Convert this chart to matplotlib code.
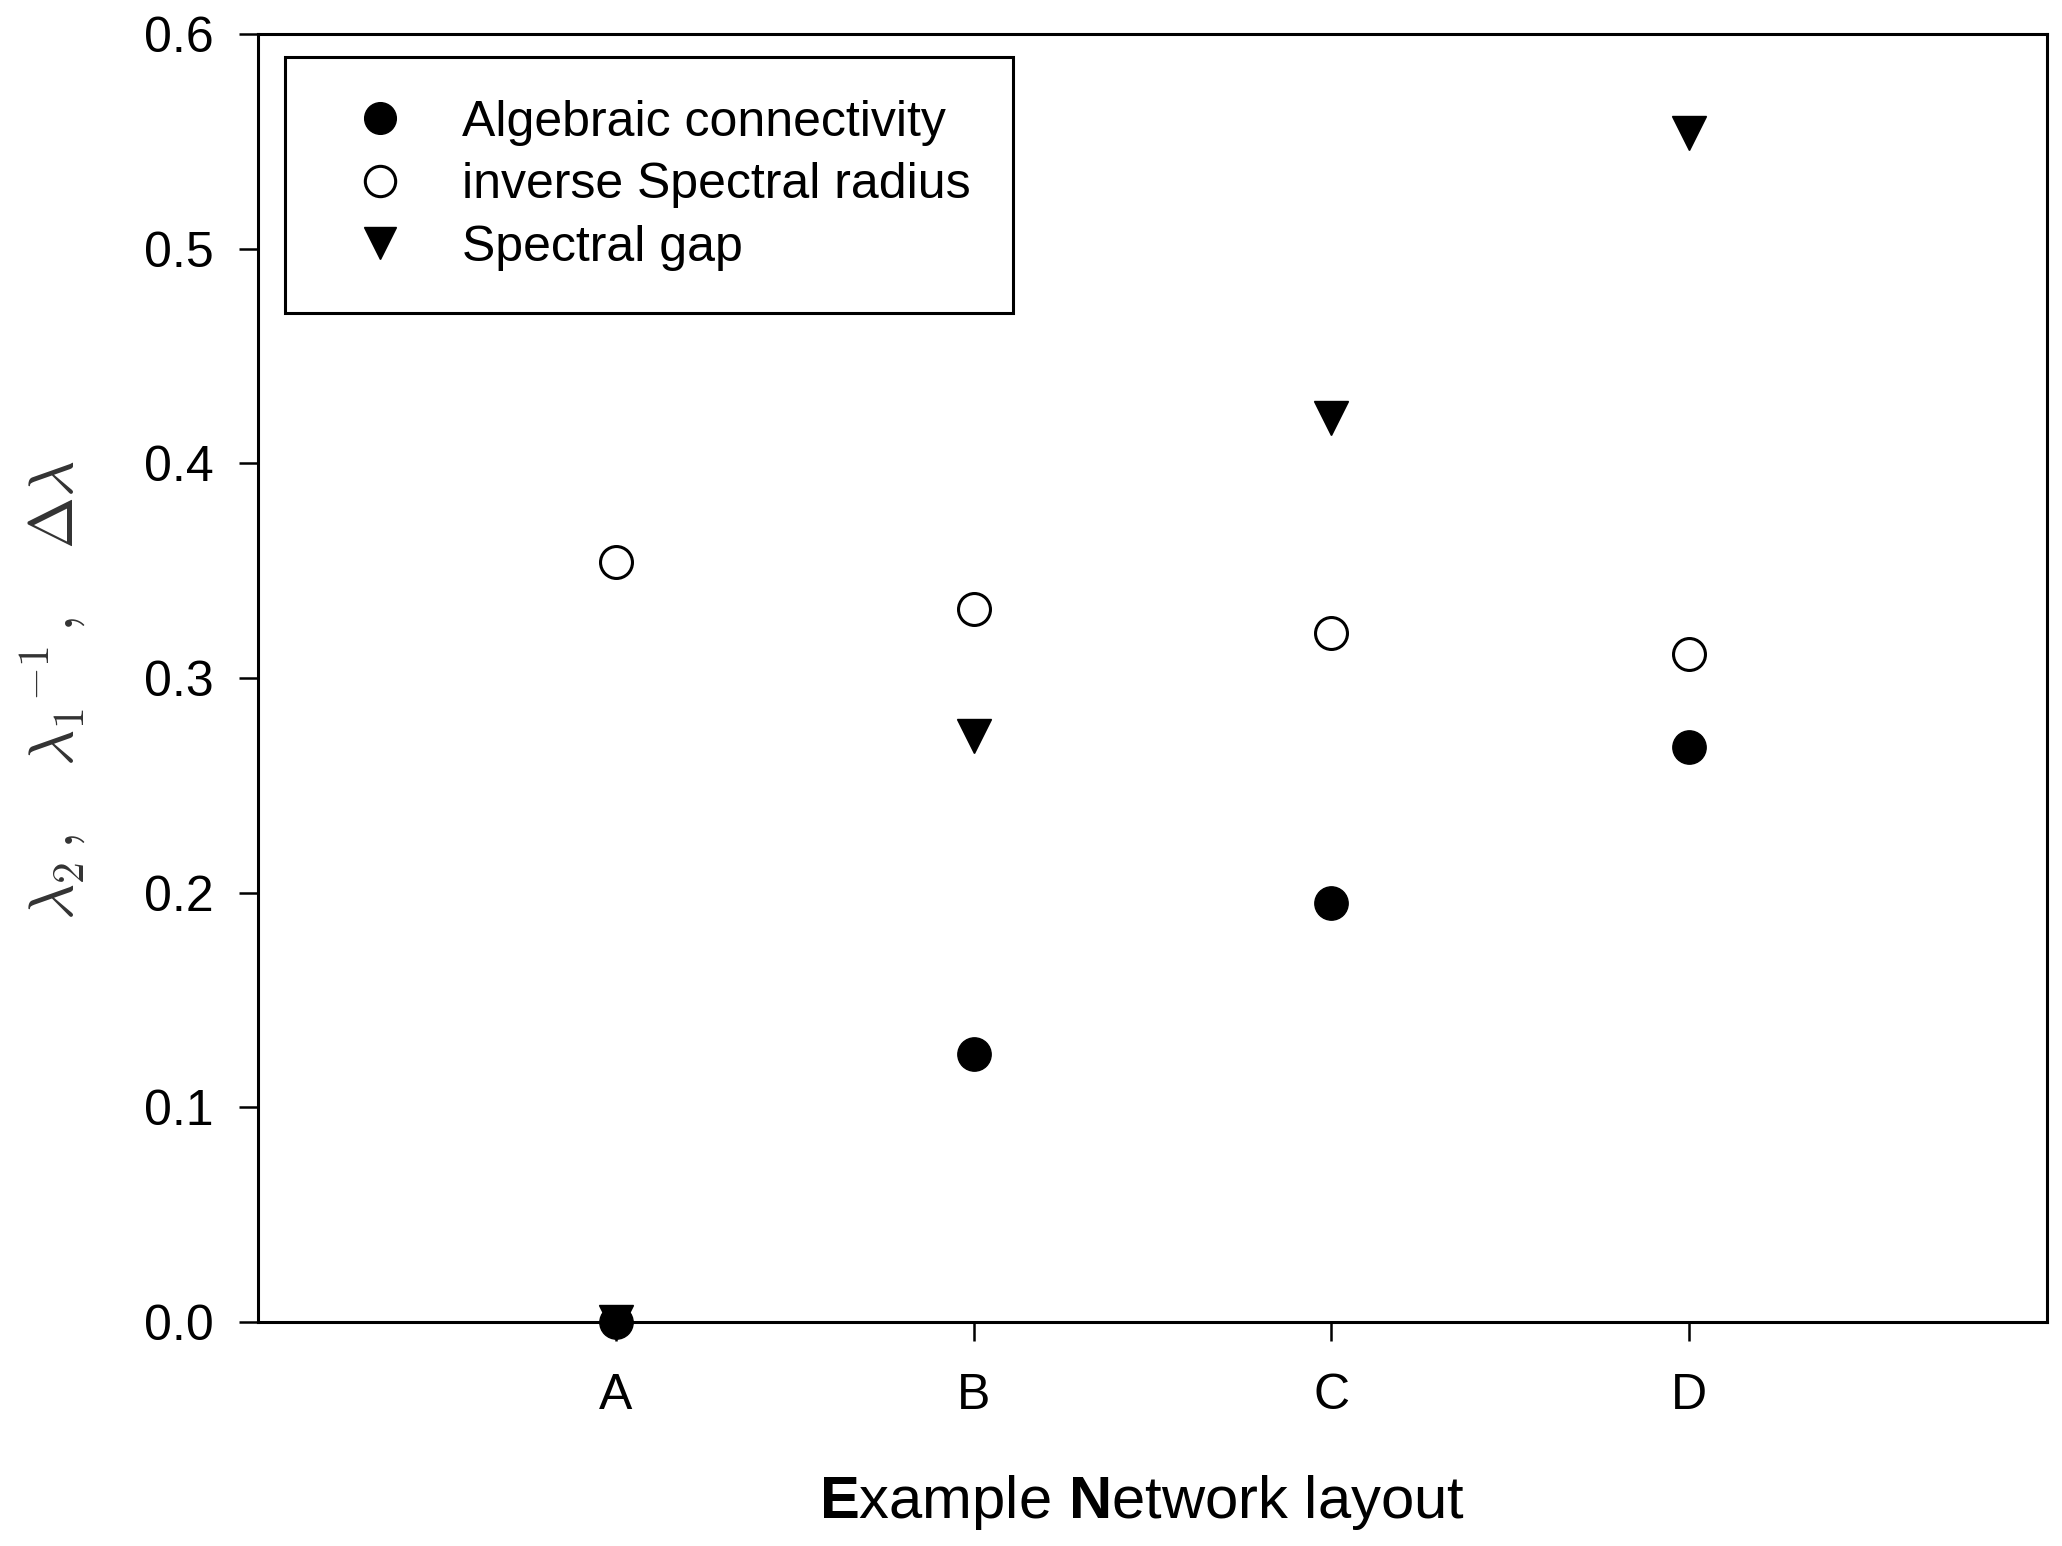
import matplotlib
matplotlib.use("Agg")
import matplotlib.pyplot as plt
from matplotlib.ticker import FormatStrFormatter

categories = ["A", "B", "C", "D"]
algebraic_connectivity = [0.0, 0.125, 0.195, 0.268]
inverse_spectral_radius = [0.354, 0.332, 0.321, 0.311]
spectral_gap = [0.0, 0.273, 0.421, 0.554]
y_ticks = [0.0, 0.1, 0.2, 0.3, 0.4, 0.5, 0.6]

plt.rcParams['font.family'] = ['Liberation Sans', 'DejaVu Sans']
plt.rcParams['mathtext.fontset'] = 'custom'
plt.rcParams['mathtext.rm'] = 'Liberation Sans'
plt.rcParams['mathtext.bf'] = 'Liberation Sans:bold'

fig = plt.figure(figsize=(20.62, 15.46), dpi=100)
ax = fig.add_axes([0.1251, 0.14489, 0.99273 - 0.1251, 0.97801 - 0.14489])

x = list(range(1, len(categories) + 1))

ax.plot(x, algebraic_connectivity, linestyle='none', marker='o', markersize=24,
        color='black', label='Algebraic connectivity', zorder=5, clip_on=False)
ax.plot(x, inverse_spectral_radius, linestyle='none', marker='o', markersize=23,
        markerfacecolor='white', markeredgecolor='black', markeredgewidth=2.2,
        label='inverse Spectral radius', zorder=4, clip_on=False)
ax.plot(x, spectral_gap, linestyle='none', marker='v', markersize=24,
        color='black', label='Spectral gap', zorder=3, clip_on=False)

ax.set_xlim(0, 5)
ax.set_ylim(0, 0.6)
ax.set_xticks(x)
ax.set_xticklabels(categories)
ax.set_yticks(y_ticks)
ax.yaxis.set_major_formatter(FormatStrFormatter('%.1f'))

for side in ['left', 'bottom', 'right', 'top']:
    ax.spines[side].set_linewidth(2.2)
ax.tick_params(axis='both', which='major', direction='out', length=14, width=1.8,
               labelsize=36, top=False, right=False)
ax.tick_params(axis='y', pad=18)
ax.tick_params(axis='x', pad=23)

ax.set_xlabel(r'$\mathbf{E}$xample $\mathbf{N}$etwork layout', fontsize=43)
ax.xaxis.set_label_coords(0.494, -0.1173)
ax.set_ylabel(r'$\lambda_2\,,\ \ \ \lambda_1{}^{-1}\,,\ \ \ \Delta\lambda$', fontsize=45,
              color='#333333', math_fontfamily='cm')
ax.yaxis.set_label_coords(-0.095, 0.4907)

leg = ax.legend(loc='upper left', bbox_to_anchor=(0.015, 0.982), fontsize=36,
                frameon=True, fancybox=False, shadow=False, borderpad=0.85,
                handlelength=2.1, handletextpad=0.6, labelspacing=0.33,
                borderaxespad=0, markerscale=0.95)
leg.get_frame().set_edgecolor('black')
leg.get_frame().set_linewidth(2.2)
leg.get_frame().set_alpha(1)

fig.savefig('out.png', dpi=100)
